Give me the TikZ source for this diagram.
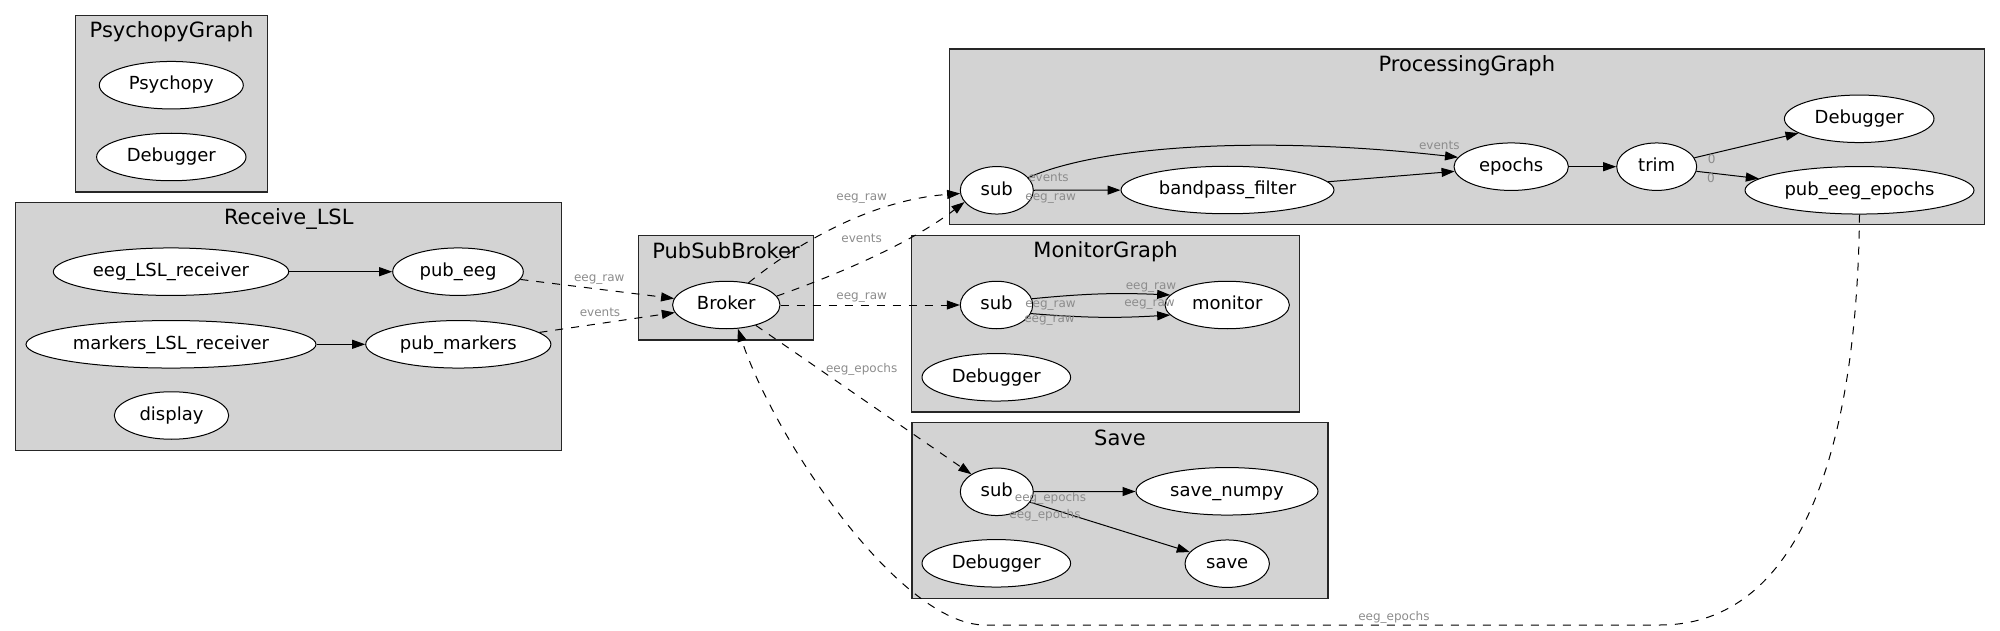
\documentclass[tikz,border=0pt]{standalone}
\usepackage{fontspec}
\setmainfont{DejaVu Sans}
\usetikzlibrary{arrows.meta,shapes.geometric}
\definecolor{clfill}{HTML}{D3D3D3}
\definecolor{lblgray}{HTML}{8C8C8C}
\begin{document}
\begin{tikzpicture}[x=1pt,y=-1pt,
  nd/.style={ellipse, draw=black, fill=white, line width=1pt, inner sep=0pt,
    minimum height=47.5pt, font=\fontsize{18}{20}\selectfont, text height=13.9pt, text depth=4.3pt},
  lbl/.style={font=\fontsize{12}{14}\selectfont, text=lblgray, inner sep=0pt, text height=6.6pt, text depth=2.4pt},
  ttl/.style={font=\fontsize{21}{24}\selectfont, anchor=base, inner sep=0pt},
  clus/.style={draw=black!85, fill=clfill, line width=1.1pt},
  edge/.style={line width=1pt, -{Triangle[length=13pt,width=9pt]}},
  dsh/.style={edge, dash pattern=on 8pt off 8pt}]
\useasboundingbox (0,0) rectangle (2000,631);

% clusters
\draw[clus] (75.3,15.7) rectangle (267.7,192);
\draw[clus] (15.7,202.3) rectangle (561.8,450.7);
\draw[clus] (638.7,235.7) rectangle (813.3,340);
\draw[clus] (949.3,49) rectangle (1984.3,224.3);
\draw[clus] (911.7,235.3) rectangle (1299.3,412);
\draw[clus] (912,422.7) rectangle (1328,598.7);

\node[ttl] (t1) at (171.5,38) {PsychopyGraph};
\node[ttl] (t2) at (288.75,224.5) {Receive\_LSL};
\node[ttl] (t3) at (726,258.3) {PubSubBroker};
\node[ttl] (t4) at (1466.8,71.5) {ProcessingGraph};
\node[ttl] (t5) at (1105.5,257.8) {MonitorGraph};
\node[ttl] (t6) at (1120,445.2) {Save};

% nodes
\node[nd, minimum width=144pt] (psy) at (171.3,85.2) {Psychopy};
\node[nd, minimum width=149.4pt] (dbg1) at (171.3,157) {Debugger};
\node[nd, minimum width=235.4pt] (eegrec) at (171,271.7) {eeg\_LSL\_receiver};
\node[nd, minimum width=130.6pt] (pubeeg) at (458,271.7) {pub\_eeg};
\node[nd, minimum width=290pt] (markrec) at (171,344.3) {markers\_LSL\_receiver};
\node[nd, minimum width=185.2pt] (pubmark) at (458.3,344.3) {pub\_markers};
\node[nd, minimum width=114.4pt] (display) at (171.5,415.5) {display};
\node[nd, minimum width=107.4pt] (broker) at (726.3,305) {Broker};
\node[nd, minimum width=73pt] (psub) at (996.8,190.3) {sub};
\node[nd, minimum width=213pt] (bandpass) at (1227.5,190) {bandpass\_filter};
\node[nd, minimum width=114.4pt] (epochs) at (1511.2,166.7) {epochs};
\node[nd, minimum width=80pt] (trim) at (1656.7,166.7) {trim};
\node[nd, minimum width=149.6pt] (dbg2) at (1859.2,118.8) {Debugger};
\node[nd, minimum width=229pt] (pubepochs) at (1859.5,190.3) {pub\_eeg\_epochs};
\node[nd, minimum width=72.4pt] (msub) at (996.5,305) {sub};
\node[nd, minimum width=124.4pt] (monitor) at (1227.2,305) {monitor};
\node[nd, minimum width=148.6pt] (dbg3) at (996.3,377.3) {Debugger};
\node[nd, minimum width=73pt] (ssub) at (996.8,491.8) {sub};
\node[nd, minimum width=182pt] (savenp) at (1227,491.3) {save\_numpy};
\node[nd, minimum width=84.4pt] (save) at (1227.2,563.7) {save};
\node[nd, minimum width=148.6pt] (dbg4) at (996.3,563.3) {Debugger};

% edges
\draw[edge] (eegrec) -- (pubeeg);
\draw[edge] (markrec) -- (pubmark);
\draw[dsh] (pubeeg) -- (broker);
\draw[dsh] (pubmark) -- (broker);
\draw[dsh] (broker) -- (msub);
\draw[dsh] (broker.45) .. controls (795,245) and (870,200) .. (psub.185);
\draw[dsh] (broker.10) .. controls (850,270) and (915,240) .. (psub.200);
\draw[dsh] (broker) -- (ssub);
\draw[dsh] (pubepochs.south) .. controls (1857,450) and (1800,625) .. (1660,625) -- (985,625) .. controls (900,625) and (775,440) .. (broker.-64);

\draw[edge] (psub) -- (bandpass);
\draw[edge] (psub.22) .. controls (1100,146) and (1260,135) .. (epochs.170);
\draw[edge] (bandpass) -- (epochs);
\draw[edge] (epochs) -- (trim);
\draw[edge] (trim) -- (dbg2);
\draw[edge] (trim) -- (pubepochs);

\draw[edge] (msub.10) to[bend left=4] (monitor.170);
\draw[edge] (msub.-14) to[bend right=4] (monitor.-170);

\draw[edge] (ssub) -- (savenp);
\draw[edge] (ssub) -- (save);

% labels
\node[lbl] (l1) at (599.3,279.3) {eeg\_raw};
\node[lbl] (l2) at (600,314) {events};
\node[lbl] (l3) at (861.7,198.7) {eeg\_raw};
\node[lbl] (l4) at (861.7,240) {events};
\node[lbl] (l5) at (861.7,297.3) {eeg\_raw};
\node[lbl] (l6) at (861.7,370) {eeg\_epochs};
\node[lbl] (l7) at (1393.9,618.3) {eeg\_epochs};
\node[lbl] (l8) at (1048.5,179.3) {events};
\node[lbl] (l9) at (1050.7,198.3) {eeg\_raw};
\node[lbl] (l10) at (1439.3,147.3) {events};
\node[lbl] (l11) at (1711.7,161.7) {0};
\node[lbl] (l12) at (1711,180) {0};
\node[lbl] (l13) at (1151,287.3) {eeg\_raw};
\node[lbl] (l14) at (1149.5,304) {eeg\_raw};
\node[lbl] (l15) at (1050.5,305.3) {eeg\_raw};
\node[lbl] (l16) at (1049.5,320.7) {eeg\_raw};
\node[lbl] (l17) at (1050.5,499.3) {eeg\_epochs};
\node[lbl] (l18) at (1045,516) {eeg\_epochs};
\end{tikzpicture}
\end{document}
